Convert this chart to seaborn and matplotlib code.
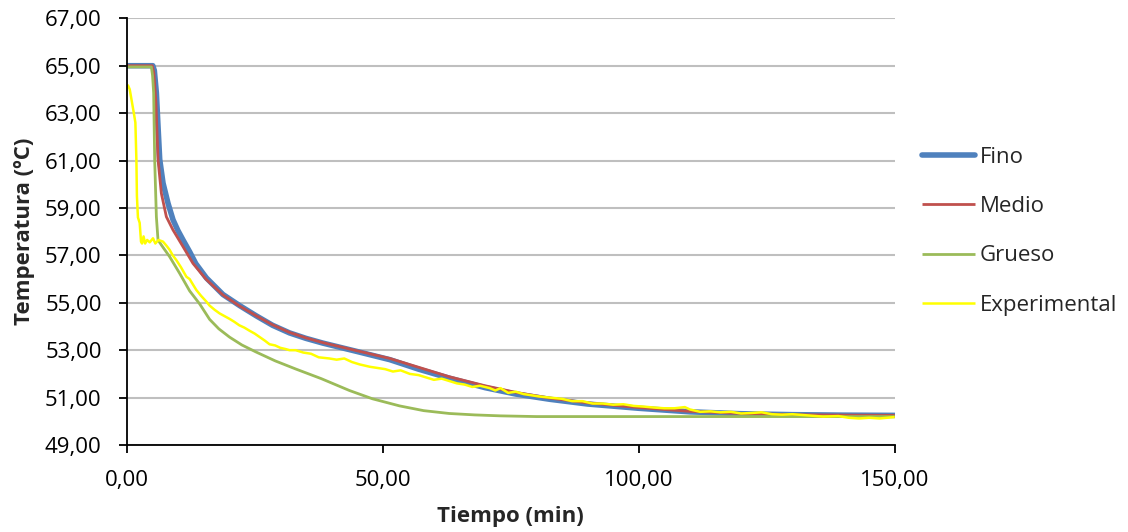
import numpy as np
import pandas as pd
import matplotlib
matplotlib.use("Agg")
import matplotlib.pyplot as plt
import seaborn as sns
from matplotlib.ticker import FuncFormatter

# ---------------- data ----------------
fino_t = [0, 5.1, 5.4, 5.8, 6.12, 6.45, 7.1, 8.07, 9.05, 10.0, 11.0, 12.3, 13.5,
          15.56, 18.8, 22.07, 25.3, 28.5, 31.8, 35, 38.3, 44.9, 51.4, 57, 63, 70,
          76, 82.6, 90, 100, 110, 120, 130, 140, 150]
fino_y = [65.0, 65.0, 64.8, 63.85, 62.45, 61.05, 60.05, 59.2, 58.5, 58.05, 57.65,
          57.15, 56.65, 56.05, 55.35, 54.88, 54.45, 54.05, 53.73, 53.5, 53.3, 52.95,
          52.6, 52.2, 51.82, 51.42, 51.15, 50.93, 50.73, 50.55, 50.4, 50.32, 50.28,
          50.26, 50.25]

medio_t = [0, 5.0, 5.3, 5.7, 6.12, 6.77, 7.75, 9.05, 11.0, 12.95, 15.56, 18.8,
           22.07, 25.3, 28.5, 31.8, 35, 38.3, 44.9, 51.4, 57, 63, 70, 76, 82.6, 90,
           100, 110, 120, 130, 140, 150]
medio_y = [65.0, 65.0, 64.7, 63.5, 61.05, 59.62, 58.63, 58.07, 57.37, 56.66, 55.98,
           55.33, 54.86, 54.45, 54.07, 53.75, 53.52, 53.32, 52.98, 52.65, 52.28,
           51.88, 51.5, 51.22, 50.98, 50.78, 50.58, 50.42, 50.33, 50.28, 50.26, 50.25]

grueso_t = [0, 4.82, 5.05, 5.27, 5.47, 5.8, 6.12, 6.77, 8.4, 10.35, 12.3, 14.26,
            16.2, 18, 20.1, 22.5, 25.3, 29, 33.1, 38, 43.5, 48, 53.3, 58, 63, 68,
            73, 80, 100, 150]
grueso_y = [64.95, 64.95, 64.6, 63.85, 61.03, 58.63, 57.65, 57.44, 56.94, 56.24,
            55.5, 54.95, 54.3, 53.9, 53.55, 53.22, 52.92, 52.55, 52.2, 51.8, 51.3,
            50.95, 50.65, 50.45, 50.33, 50.27, 50.23, 50.2, 50.2, 50.2]

exp_t = [0.2, 0.6, 1.0, 1.4, 1.7, 1.9, 2.0, 2.2, 2.54, 2.8, 3.0, 3.3, 3.6, 4.0, 4.5,
         5.14, 5.6, 6.2, 7.1, 7.8, 8.4, 9.0, 9.7, 10.6, 11.66, 12.3, 13.0, 13.6,
         14.5, 15.56, 16.2, 17.2, 18.16, 19.0, 20.1, 21, 22, 23, 24, 25, 26, 27,
         27.9, 29, 30, 31, 31.8, 33, 34.5, 36, 37.5, 39.6, 41, 42.5, 44, 45.5, 47.5,
         49, 50.5, 52, 53.5, 55.3, 57, 58.5, 60, 61.5, 63, 64.5, 66, 67.5, 69, 70.9,
         72, 73, 74.5, 76, 77.5, 79, 80.5, 82.6, 85, 87, 89, 91, 93, 95, 97, 99, 101,
         103, 105, 107, 109, 110, 112, 114, 116, 118, 120, 122, 124, 126, 128, 130,
         133, 136, 139, 141, 143, 145, 147, 150]
exp_y = [64.2, 64.0, 63.5, 63.0, 62.6, 61.0, 59.5, 58.6, 58.37, 57.58, 57.5, 57.8,
         57.5, 57.65, 57.55, 57.72, 57.5, 57.65, 57.58, 57.4, 57.23, 57.0, 56.8,
         56.5, 56.1, 56.0, 55.75, 55.54, 55.3, 55.05, 54.88, 54.7, 54.55, 54.45,
         54.32, 54.2, 54.05, 53.95, 53.82, 53.7, 53.55, 53.4, 53.25, 53.2, 53.1,
         53.05, 53.0, 53.0, 52.9, 52.85, 52.7, 52.65, 52.6, 52.65, 52.5, 52.4, 52.3,
         52.25, 52.2, 52.1, 52.15, 52.0, 51.95, 51.85, 51.75, 51.8, 51.7, 51.6,
         51.55, 51.45, 51.5, 51.4, 51.3, 51.4, 51.2, 51.25, 51.15, 51.1, 51.05,
         51.0, 50.95, 50.85, 50.85, 50.75, 50.75, 50.7, 50.72, 50.65, 50.62, 50.58,
         50.55, 50.55, 50.6, 50.5, 50.4, 50.42, 50.38, 50.4, 50.33, 50.35, 50.38,
         50.3, 50.28, 50.3, 50.25, 50.2, 50.22, 50.15, 50.12, 50.15, 50.12, 50.18]

series_names = ["Fino", "Medio", "Grueso", "Experimental"]
x_ticks = [0, 50, 100, 150]
y_ticks = [49, 51, 53, 55, 57, 59, 61, 63, 65, 67]

# ---------------- styling ----------------
sns.set_theme(style="white")
plt.rcParams["font.family"] = ["Open Sans", "DejaVu Sans"]

colors = {"Fino": "#4F81BD", "Medio": "#C0504D", "Grueso": "#9BBB59",
          "Experimental": "#FFFF00"}
widths = {"Fino": 4.0, "Medio": 2.0, "Grueso": 2.0, "Experimental": 1.8}

fig = plt.figure(figsize=(11.28, 5.32), dpi=100)
ax = fig.add_axes([0.1123, 0.1635, 0.6809, 0.8021])

data = {
    "Fino": (fino_t, fino_y),
    "Medio": (medio_t, medio_y),
    "Grueso": (grueso_t, grueso_y),
    "Experimental": (exp_t, exp_y),
}
for name in series_names:
    t, y = data[name]
    df = pd.DataFrame({"t": t, "y": y})
    sns.lineplot(data=df, x="t", y="y", ax=ax, color=colors[name],
                 linewidth=widths[name], label=name, sort=False,
                 solid_capstyle="round" if name == "Fino" else "butt",
                 solid_joinstyle="round")

ax.set_xlim(0, 150)
ax.set_ylim(49, 67)
ax.set_xticks(x_ticks)
ax.set_yticks(y_ticks)
fmt = FuncFormatter(lambda v, p: f"{v:.2f}".replace(".", ","))
ax.xaxis.set_major_formatter(fmt)
ax.yaxis.set_major_formatter(fmt)

ax.yaxis.grid(True, color="#BFBFBF", linewidth=1.5)
ax.xaxis.grid(False)
ax.set_axisbelow(True)
for s in ["top", "right"]:
    ax.spines[s].set_visible(False)
for s in ["left", "bottom"]:
    ax.spines[s].set_color("black")
    ax.spines[s].set_linewidth(1.3)

ax.tick_params(axis="both", which="major", direction="out", length=6, width=1.3,
               color="black", labelsize=16, labelcolor="black", pad=12, left=True,
               bottom=True)

ax.set_xlabel("Tiempo (min)", fontsize=16, fontweight="bold", labelpad=11)
ax.set_ylabel("Temperatura (ºC)", fontsize=16, fontweight="bold", labelpad=7)

leg = ax.legend(loc="upper left", bbox_to_anchor=(0.817, 0.7237),
                bbox_transform=fig.transFigure, frameon=False, fontsize=16,
                handlelength=2.4, handletextpad=0.22, labelspacing=1.27,
                borderpad=0, borderaxespad=0)
for txt in leg.get_texts():
    txt.set_color("#262626")

fig.savefig("out.png", dpi=100)
